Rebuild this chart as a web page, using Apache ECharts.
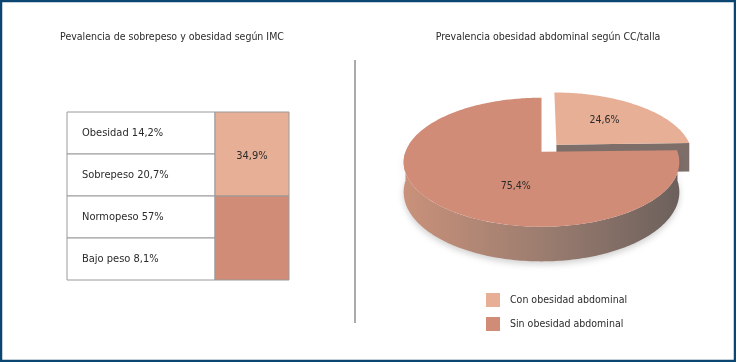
<!DOCTYPE html>
<html>
<head>
<meta charset="utf-8">
<script src="https://cdn.jsdelivr.net/npm/echarts@6/dist/echarts.min.js"></script>
<style>
  html, body { margin: 0; padding: 0; background: #fff; }
  #chart { width: 736px; height: 362px; }
</style>
</head>
<body>
<div id="chart"></div>
<script>
// ---------- DATA ----------
const titles = ['Pevalencia de sobrepeso y obesidad según IMC', 'Prevalencia obesidad abdominal según CC/talla'];
const imcCategories = ['Obesidad', 'Sobrepeso', 'Normopeso', 'Bajo peso'];
const imcValues = [14.2, 20.7, 57, 8.1];
const imcGroupRows = [[0, 2], [2, 4]];      // rows merged in the right column
const imcGroupShowLabel = [true, false];
const pieNames = ['Con obesidad abdominal', 'Sin obesidad abdominal'];
const pieValues = [24.6, 75.4];

// ---------- STYLE ----------
const FONT = '"Liberation Sans Narrow","DejaVu Sans Condensed","Arial Narrow",sans-serif';
const TXT = '#2b2b2b';
const LIGHT = '#E6AF96';
const DARK = '#D08C77';
const GRID_LINE = '#9a9a9a';
const pieTop = [LIGHT, DARK];
const explode = [0.16, 0];
const labelPos = [[0.393, 0.426], [-0.174, -0.501]]; // label anchors in pie-plane units

// pie projection (simulated 3D with perspective)
const CX = 541.5, CY = 151.7, R = 136, RK = 62.8, P = 0.163, D = 29;
function proj(u, v, h) {
  const s = 1 / (1 + P * v);
  return [CX + R * u * s, CY - RK * v * s + h * D * s];
}
const fmt = v => String(v).replace('.', ',');
const sum = a => a.reduce((x, y) => x + y, 0);
const rad = d => d * Math.PI / 180;

function makeSlice(k) {
  return {
    type: 'custom',
    name: pieNames[k],
    coordinateSystem: 'none',
    data: [[pieValues[k]]],
    itemStyle: { color: pieTop[k] },
    z: 3 + k,
    silent: true,
    renderItem: function (params, api) {
      const val = api.value(0);
      const total = sum(pieValues);
      const before = sum(pieValues.slice(0, k));
      const a0 = 90 - before / total * 360;
      const a1 = a0 - val / total * 360;
      const mid = rad((a0 + a1) / 2);
      const ou = explode[k] * Math.cos(mid), ov = explode[k] * Math.sin(mid);
      const pt = (deg, h) => proj(ou + Math.cos(rad(deg)), ov + Math.sin(rad(deg)), h);
      const children = [];
      // radial faces
      [[a0, a0 + 90], [a1, a1 - 90]].forEach(([a, n]) => {
        if (Math.sin(rad(n)) < -0.2) {
          children.push({
            type: 'polygon',
            shape: { points: [proj(ou, ov, 0), pt(a, 0), pt(a, 1), proj(ou, ov, 1)] },
            style: { fill: '#7D6E69' }
          });
        }
      });
      // outer wall (front half)
      for (let m = -1; m <= 1; m++) {
        const lo = Math.max(a1, -180 + 360 * m), hi = Math.min(a0, 360 * m);
        if (hi > lo) {
          const top = [], bot = [];
          for (let a = hi; a > lo; a -= 1) { top.push(pt(a, 0)); bot.push(pt(a, 1)); }
          top.push(pt(lo, 0)); bot.push(pt(lo, 1));
          children.push({
            type: 'polygon',
            shape: { points: top.concat(bot.reverse()) },
            style: {
              fill: new echarts.graphic.LinearGradient(0, 0, 1, 0, [
                { offset: 0, color: '#C9917A' },
                { offset: 0.5, color: '#9C7D70' },
                { offset: 1, color: '#6C605C' }
              ]),
              shadowBlur: 6, shadowColor: 'rgba(0,0,0,0.18)', shadowOffsetY: 3
            }
          });
        }
      }
      // top face
      const face = [proj(ou, ov, 0)];
      for (let a = a0; a > a1; a -= 1) face.push(pt(a, 0));
      face.push(pt(a1, 0));
      children.push({ type: 'polygon', shape: { points: face }, style: { fill: pieTop[k] } });
      // label
      const lp = proj(ou + labelPos[k][0], ov + labelPos[k][1], 0);
      children.push({
        type: 'text',
        style: {
          text: fmt(val) + '%', x: lp[0], y: lp[1],
          align: 'center', verticalAlign: 'middle',
          textAlign: 'center', textVerticalAlign: 'middle',
          fill: TXT, font: '10.5px ' + FONT
        }
      });
      return { type: 'group', children: children };
    }
  };
}

const chart = echarts.init(document.getElementById('chart'), null, { renderer: 'canvas' });
chart.setOption({
  animation: false,
  backgroundColor: '#fff',
  title: [
    { text: titles[0], left: 172, top: 32, textAlign: 'center', padding: 0,
      textStyle: { fontSize: 10.5, fontWeight: 'normal', color: TXT, fontFamily: FONT } },
    { text: titles[1], left: 548, top: 32, textAlign: 'center', padding: 0,
      textStyle: { fontSize: 10.5, fontWeight: 'normal', color: TXT, fontFamily: FONT } }
  ],
  legend: {
    data: pieNames,
    orient: 'vertical',
    left: 486, top: 293,
    itemWidth: 14, itemHeight: 14, itemGap: 10,
    icon: 'rect',
    padding: 0,
    textStyle: { fontSize: 10.5, color: TXT, fontFamily: FONT, padding: [0, 0, 0, 5] }
  },
  grid: { left: 67, top: 112, width: 222, height: 168 },
  xAxis: { type: 'value', min: 0, max: 3, show: false },
  yAxis: { type: 'value', min: 0, max: 4, inverse: true, show: false },
  graphic: [
    { type: 'rect', shape: { x: 1, y: 1, width: 734, height: 360 }, style: { fill: 'none', stroke: '#0B4672', lineWidth: 2.5 }, z: 100 },
    { type: 'line', shape: { x1: 355, y1: 60, x2: 355, y2: 323 }, style: { stroke: '#ababab', lineWidth: 2 } }
  ],
  series: [
    {
      type: 'custom', name: 'imcRows', silent: true,
      data: imcValues.map((v, i) => [i, v]),
      renderItem: function (params, api) {
        const i = api.value(0);
        const p0 = api.coord([0, i]), p1 = api.coord([2, i + 1]);
        return {
          type: 'group', children: [
            { type: 'rect', shape: { x: p0[0], y: p0[1], width: p1[0] - p0[0], height: p1[1] - p0[1] },
              style: { fill: '#fff', stroke: GRID_LINE, lineWidth: 1 } },
            { type: 'text', style: { text: imcCategories[i] + ' ' + fmt(api.value(1)) + '%',
              x: p0[0] + 15, y: (p0[1] + p1[1]) / 2, align: 'left', verticalAlign: 'middle',
              textAlign: 'left', textVerticalAlign: 'middle', fill: TXT, font: '11px ' + FONT } }
          ]
        };
      }
    },
    {
      type: 'custom', name: 'imcGroups', silent: true,
      data: imcGroupRows.map((g, j) => [j, g[0], g[1], +sum(imcValues.slice(g[0], g[1])).toFixed(1)]),
      renderItem: function (params, api) {
        const j = api.value(0);
        const p0 = api.coord([2, api.value(1)]), p1 = api.coord([3, api.value(2)]);
        const ch = [
          { type: 'rect', shape: { x: p0[0], y: p0[1], width: p1[0] - p0[0], height: p1[1] - p0[1] },
            style: { fill: j === 0 ? LIGHT : DARK, stroke: GRID_LINE, lineWidth: 1 } }
        ];
        if (imcGroupShowLabel[j]) {
          ch.push({ type: 'text', style: { text: fmt(api.value(3)) + '%',
            x: (p0[0] + p1[0]) / 2, y: (p0[1] + p1[1]) / 2 + 2, align: 'center', verticalAlign: 'middle',
            textAlign: 'center', textVerticalAlign: 'middle', fill: TXT, font: '11px ' + FONT } });
        }
        return { type: 'group', children: ch };
      }
    },
    makeSlice(0),
    makeSlice(1)
  ]
});
</script>
</body>
</html>
